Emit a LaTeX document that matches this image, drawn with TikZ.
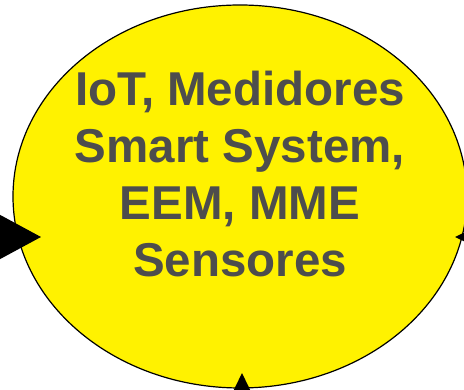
\documentclass[tikz,border=0pt]{standalone}
\usepackage{fontspec}
\setmainfont{Liberation Sans}
\usetikzlibrary{shapes.geometric,arrows.meta}
\definecolor{txtgray}{RGB}{77,77,77}
\begin{document}
\begin{tikzpicture}[x=1pt,y=1pt,
  bubble/.style={ellipse, draw=black, line width=1.2pt, fill=yellow, inner sep=0pt,
    minimum width=454pt, minimum height=383pt},
  label/.style={align=center, text=txtgray, font=\bfseries\fontsize{47.5}{57}\selectfont, inner sep=0pt},
  bigarrow/.style={line width=1.5pt, -{Triangle[length=42pt,width=45pt]}},
  smallarrow/.style={line width=1.5pt, -{Triangle[length=18pt,width=17pt]}}]
\useasboundingbox (0,0) rectangle (464,390);
\clip (0,0) rectangle (464,390);
\node[bubble] (e) at (240,193.5) {};
\node[label] (t) at (240,216) {IoT, Medidores\\Smart System,\\EEM, MME\\Sensores};
\coordinate (lin) at (-60,153);
\coordinate (ltip) at (41,153);
\coordinate (rin) at (520,153);
\coordinate (rtip) at (455,153);
\coordinate (bin) at (242,-40);
\coordinate (btip) at (242,17);
\draw[bigarrow] (lin) -- (ltip);
\draw[smallarrow] (rin) -- (rtip);
\draw[smallarrow] (bin) -- (btip);
\end{tikzpicture}
\end{document}
